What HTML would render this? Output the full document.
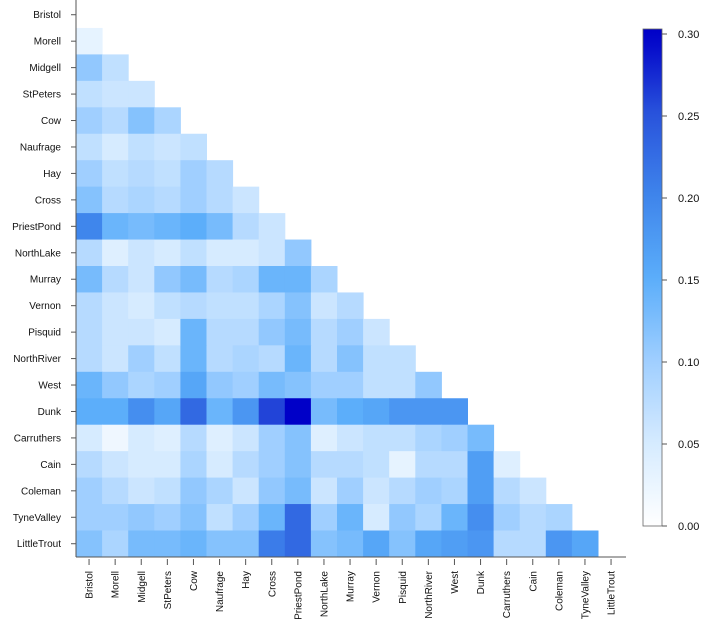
<!DOCTYPE html>
<html><head><meta charset="utf-8"><style>
body{margin:0;background:#fff;}
svg{display:block;font-family:"Liberation Sans",sans-serif;}
</style></head><body>
<svg id="chart" width="709" height="627" xmlns="http://www.w3.org/2000/svg"></svg>
<script>
const categories=["Bristol","Morell","Midgell","StPeters","Cow","Naufrage","Hay","Cross","PriestPond","NorthLake","Murray","Vernon","Pisquid","NorthRiver","West","Dunk","Carruthers","Cain","Coleman","TyneValley","LittleTrout"];
const rowMorell=[0.03];
const rowMidgell=[0.11,0.07];
const rowStPeters=[0.07,0.06,0.06];
const rowCow=[0.1,0.08,0.12,0.09];
const rowNaufrage=[0.07,0.05,0.07,0.06,0.07];
const rowHay=[0.1,0.07,0.08,0.07,0.1,0.08];
const rowCross=[0.12,0.08,0.09,0.08,0.1,0.08,0.06];
const rowPriestPond=[0.2,0.14,0.13,0.14,0.15,0.13,0.08,0.06];
const rowNorthLake=[0.08,0.04,0.06,0.05,0.07,0.05,0.05,0.06,0.11];
const rowMurray=[0.13,0.08,0.06,0.11,0.13,0.08,0.09,0.14,0.14,0.09];
const rowVernon=[0.08,0.06,0.05,0.07,0.08,0.07,0.07,0.09,0.12,0.06,0.08];
const rowPisquid=[0.08,0.06,0.06,0.05,0.14,0.08,0.08,0.11,0.13,0.08,0.1,0.06];
const rowNorthRiver=[0.08,0.06,0.1,0.07,0.14,0.08,0.09,0.08,0.14,0.08,0.12,0.07,0.07];
const rowWest=[0.14,0.11,0.09,0.1,0.16,0.11,0.1,0.13,0.12,0.1,0.1,0.07,0.07,0.11];
const rowDunk=[0.15,0.15,0.19,0.16,0.23,0.14,0.18,0.26,0.3,0.13,0.15,0.16,0.18,0.18,0.18];
const rowCarruthers=[0.05,0.02,0.05,0.04,0.08,0.04,0.06,0.1,0.12,0.04,0.06,0.07,0.07,0.09,0.1,0.13];
const rowCain=[0.08,0.06,0.05,0.05,0.09,0.05,0.08,0.1,0.12,0.08,0.08,0.07,0.03,0.08,0.08,0.17,0.04];
const rowColeman=[0.1,0.08,0.06,0.07,0.11,0.09,0.06,0.11,0.13,0.06,0.1,0.06,0.08,0.1,0.09,0.17,0.08,0.06];
const rowTyneValley=[0.1,0.1,0.11,0.1,0.12,0.07,0.1,0.14,0.23,0.1,0.14,0.05,0.11,0.09,0.14,0.19,0.1,0.08,0.09];
const rowLittleTrout=[0.12,0.09,0.13,0.13,0.14,0.12,0.12,0.21,0.23,0.12,0.13,0.16,0.12,0.16,0.17,0.18,0.08,0.08,0.18,0.16];
const colorbarTicks=[0,0.05,0.1,0.15,0.2,0.25,0.3];
const rows=[[],rowMorell,rowMidgell,rowStPeters,rowCow,rowNaufrage,rowHay,rowCross,rowPriestPond,rowNorthLake,rowMurray,rowVernon,rowPisquid,rowNorthRiver,rowWest,rowDunk,rowCarruthers,rowCain,rowColeman,rowTyneValley,rowLittleTrout];

const NS="http://www.w3.org/2000/svg";
const svg=document.getElementById('chart');
const X0=76,CW=26.1,Y0=1.5,RH=26.45;
const xPos=j=>X0+j*CW;
const yPos=i=>Y0+i*RH;
const stops=[[0,[255,255,255]],[0.05,[214,235,255]],[0.1,[160,207,255]],[0.15,[92,174,250]],[0.2,[63,134,236]],[0.25,[42,85,220]],[0.3,[0,0,200]]];
function color(v){
  v=Math.max(0,Math.min(0.3,v));
  for(let k=1;k<stops.length;k++){
    if(v<=stops[k][0]){
      const a=stops[k-1],b=stops[k],t=(v-a[0])/(b[0]-a[0]);
      const c=a[1].map((x,m)=>Math.round(x+(b[1][m]-x)*t));
      return `rgb(${c[0]},${c[1]},${c[2]})`;
    }
  }
  return 'rgb(0,0,200)';
}
function mk(tag,attrs){const e=document.createElementNS(NS,tag);for(const k in attrs)e.setAttribute(k,attrs[k]);svg.appendChild(e);return e;}

rows.forEach((r,i)=>{
  r.forEach((v,j)=>{
    const c=mk('rect',{x:xPos(j),y:yPos(i),width:CW+0.5,height:RH+0.5,fill:color(v)});
    
    
  });
});
const ay=mk('line',{x1:X0,y1:0,x2:X0,y2:557,stroke:'#555','stroke-width':1});


const ax=mk('line',{x1:X0,y1:557,x2:626,y2:557,stroke:'#555','stroke-width':1});


categories.forEach((c,i)=>{
  const yc=yPos(i)+RH/2;
  mk('line',{x1:X0-5,y1:yc,x2:X0,y2:yc,stroke:'#555'});
  const t=mk('text',{x:61,y:yc+3.5,'text-anchor':'end','font-size':10,fill:'#111'});
  t.textContent=c;
  
  
  const xc=xPos(i)+CW/2;
  mk('line',{x1:xc,y1:559,x2:xc,y2:565,stroke:'#555'});
  const u=mk('text',{x:0,y:0,'text-anchor':'end','font-size':10,fill:'#111',transform:`translate(${xc+3.5},571) rotate(-90)`});
  u.textContent=c;
  
  
});
const CB0=526,CBS=1640,cbx=643,cbw=19;
const defs=mk('defs',{});
const g=document.createElementNS(NS,'linearGradient');g.setAttribute('id','cbg');g.setAttribute('x1','0');g.setAttribute('y1','1');g.setAttribute('x2','0');g.setAttribute('y2','0');
defs.appendChild(g);
const cbTop=0.3+5/CBS;
for(let k=0;k<=30;k++){const v=cbTop*k/30;const s=document.createElementNS(NS,'stop');s.setAttribute('offset',k/30);s.setAttribute('stop-color',color(v));g.appendChild(s);}
const cb=mk('rect',{x:cbx,y:CB0-cbTop*CBS,width:cbw,height:cbTop*CBS,fill:'url(#cbg)',stroke:'#666','stroke-width':0.8});


colorbarTicks.forEach(v=>{
  const y=CB0-v*CBS;
  mk('line',{x1:cbx+cbw,y1:y,x2:cbx+cbw+5,y2:y,stroke:'#555'});
  const t=mk('text',{x:678,y:y+4,'font-size':11,fill:'#111'});
  t.textContent=v.toFixed(2);
  
  
});
</script>
</body></html>
